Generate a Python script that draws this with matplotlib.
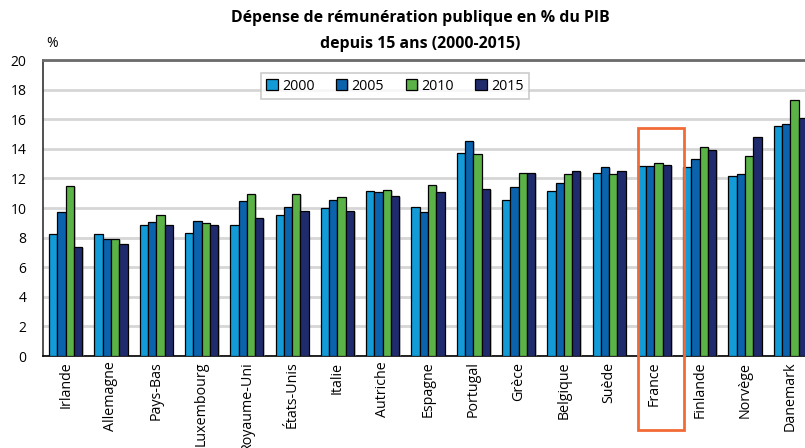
import numpy as np
import matplotlib.pyplot as plt
import matplotlib.patheffects as pe
from matplotlib.patches import Rectangle

pays = ["Irlande", "Allemagne", "Pays-Bas", "Luxembourg", "Royaume-Uni", "États-Unis",
        "Italie", "Autriche", "Espagne", "Portugal", "Grèce", "Belgique", "Suède",
        "France", "Finlande", "Norvège", "Danemark"]
annees = ["2000", "2005", "2010", "2015"]
v2000 = [8.22, 8.22, 8.85, 8.33, 8.85, 9.53, 10.02, 11.15, 10.04, 13.72, 10.52, 11.15, 12.36, 12.84, 12.75, 12.18, 15.52]
v2005 = [9.70, 7.90, 9.03, 9.10, 10.45, 10.10, 10.52, 11.06, 9.73, 14.53, 11.40, 11.69, 12.77, 12.82, 13.31, 12.27, 15.65]
v2010 = [11.50, 7.90, 9.50, 8.97, 10.95, 10.93, 10.74, 11.19, 11.53, 13.67, 12.39, 12.27, 12.32, 13.02, 14.12, 13.49, 17.27]
v2015 = [7.36, 7.55, 8.82, 8.85, 9.30, 9.77, 9.80, 10.79, 11.06, 11.26, 12.34, 12.48, 12.48, 12.90, 13.92, 14.80, 16.06]
couleurs = ["#139bd7", "#0b63ae", "#5bb347", "#1f2b6c"]

plt.rcParams["font.family"] = ["Open Sans", "DejaVu Sans"]

fig = plt.figure(figsize=(8.05, 4.48), dpi=100)
ax = fig.add_axes([43 / 805, 1 - 356 / 448, 770 / 805, 296 / 448])

x = np.arange(len(pays))
w = 0.183
ombre = [pe.SimplePatchShadow(offset=(1.2, -0.8), shadow_rgbFace="#9a9a9a", alpha=0.5), pe.Normal()]
for i, (vals, c, lab) in enumerate(zip([v2000, v2005, v2010, v2015], couleurs, annees)):
    bars = ax.bar(x + (i - 1.5) * w, vals, width=w, color=c, edgecolor="black",
                  linewidth=0.9, label=lab, zorder=3)
    for b in bars:
        b.set_path_effects(ombre)

ax.set_xlim(-0.5, len(pays) - 0.5)
ax.set_ylim(0, 20)
ax.set_yticks(np.arange(0, 21, 2))
ax.set_xticks(x)
ax.set_xticklabels(pays, rotation=90, fontsize=10.3)
ax.tick_params(axis="both", length=0, labelsize=10)
ax.tick_params(axis="x", labelsize=10.3, pad=4)
ax.tick_params(axis="y", pad=12)
ax.yaxis.grid(True, color="#d6d6d6", linewidth=2, zorder=0)
ax.set_axisbelow(True)
ax.spines["top"].set_color("#6b6b6b")
ax.spines["top"].set_linewidth(2)
ax.spines["right"].set_visible(False)
ax.spines["left"].set_linewidth(1.2)
ax.spines["left"].set_color("#333333")
ax.spines["bottom"].set_linewidth(1.2)

ax.text(-0.3, 20.6, "%", fontsize=10, ha="center", va="bottom")

# cadre autour de la France
ax.add_patch(Rectangle((12.63, -5.0), 1.02, 20.4, fill=False, edgecolor="#f26a35",
                       linewidth=2, clip_on=False, zorder=5))

leg = ax.legend(loc="center", bbox_to_anchor=(0.457, 0.912), ncol=4, fontsize=10.3,
                frameon=True, fancybox=False, handlelength=0.8, handleheight=0.8,
                handletextpad=0.3, columnspacing=1.5, borderpad=0.4)
leg.get_frame().set_edgecolor("#bfbfbf")
leg.get_frame().set_linewidth(1.2)

fig.text(420 / 805, 1 - 18 / 448, "Dépense de rémunération publique en % du PIB",
         ha="center", va="center", fontsize=11.4, fontweight="bold")
fig.text(420 / 805, 1 - 44 / 448, "depuis 15 ans (2000-2015)",
         ha="center", va="center", fontsize=11.4, fontweight="bold")

fig.savefig("out.png", dpi=100)
